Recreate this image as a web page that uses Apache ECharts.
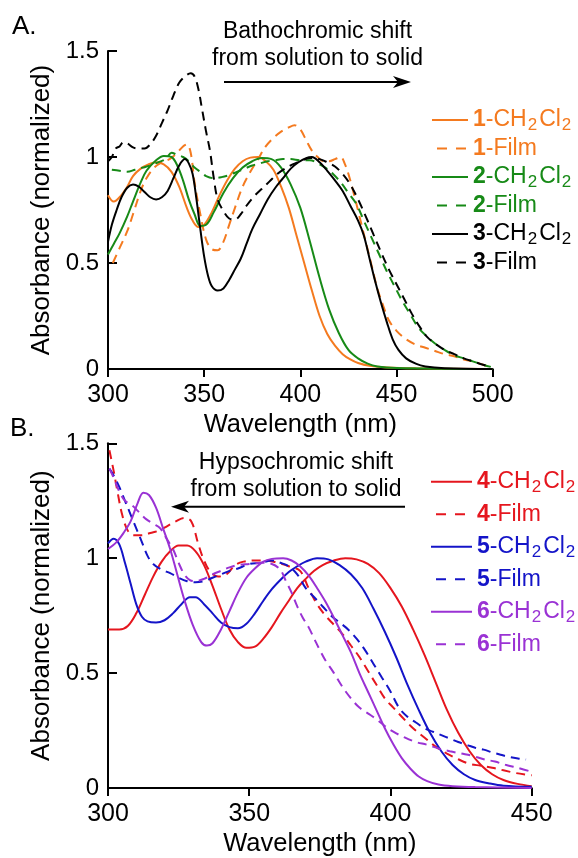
<!DOCTYPE html>
<html><head><meta charset="utf-8">
<script src="https://cdn.jsdelivr.net/npm/echarts@6/dist/echarts.min.js"></script>
<style>html,body{margin:0;padding:0;background:#fff}#c{width:578px;height:858px}</style>
</head><body><div id="c"></div>
<script>
// ---------- Panel A data (wavelength nm, normalized absorbance) ----------
const a1Sol = [[300,0.82],[303,0.79],[306,0.81],[310,0.86],[313,0.91],[317,0.945],[321,0.965],[325,0.975],[329,0.965],[333,0.93],[337,0.86],[341,0.76],[344,0.70],[347,0.67],[350,0.68],[354,0.74],[358,0.82],[362,0.89],[366,0.945],[370,0.98],[374,0.997],[378,1.0],[382,0.98],[386,0.94],[390,0.86],[394,0.76],[398,0.63],[402,0.50],[406,0.37],[410,0.25],[414,0.165],[418,0.11],[422,0.07],[426,0.045],[430,0.028],[436,0.015],[445,0.007],[460,0.003],[500,0]];
const a1Film = [[302.5,0.5],[306,0.57],[310,0.65],[313,0.73],[317,0.84],[320,0.9],[324,0.95],[328,0.975],[332,0.99],[336,1.02],[339,1.05],[341,1.06],[343,1.02],[345,0.88],[348,0.73],[351,0.61],[354,0.565],[357,0.56],[360,0.6],[363,0.68],[366,0.76],[370,0.86],[374,0.93],[378,0.99],[382,1.05],[386,1.09],[390,1.12],[394,1.14],[397,1.15],[400,1.13],[403,1.08],[406,1.03],[409,1.0],[412,0.98],[415,0.98],[418,0.99],[421,1.0],[423,0.97],[425,0.92],[428,0.82],[431,0.71],[434,0.6],[437,0.49],[440,0.38],[443,0.3],[446,0.23],[450,0.18],[455,0.14],[460,0.115],[465,0.1],[470,0.085],[475,0.07],[480,0.06],[485,0.045],[490,0.035],[495,0.02],[499,0.01]];
const a2Sol = [[300,0.54],[303,0.59],[306,0.64],[310,0.72],[313,0.79],[317,0.88],[320,0.935],[325,0.985],[329,1.005],[333,1.0],[336,0.96],[339,0.89],[342,0.8],[345,0.73],[348,0.675],[351,0.68],[355,0.74],[360,0.83],[365,0.9],[370,0.95],[375,0.98],[380,0.995],[385,0.99],[390,0.95],[395,0.87],[400,0.76],[405,0.6],[410,0.43],[415,0.28],[420,0.17],[425,0.09],[430,0.05],[435,0.025],[440,0.012],[450,0.005],[500,0]];
const a2Film = [[302,0.94],[306,0.935],[310,0.93],[314,0.94],[318,0.95],[322,0.96],[326,0.975],[330,0.99],[333,1.02],[336,1.01],[339,1.0],[342,0.98],[345,0.95],[348,0.93],[351,0.91],[355,0.9],[359,0.905],[363,0.915],[367,0.93],[371,0.945],[375,0.96],[379,0.97],[383,0.98],[387,0.985],[391,0.99],[395,0.99],[400,0.985],[405,0.985],[409,0.97],[413,0.95],[417,0.92],[421,0.88],[425,0.83],[429,0.78],[433,0.7],[437,0.62],[441,0.54],[445,0.46],[449,0.39],[453,0.32],[457,0.26],[461,0.2],[465,0.16],[470,0.12],[475,0.09],[480,0.065],[485,0.05],[490,0.035],[495,0.02],[499,0.01]];
const a3Sol = [[300,0.6],[302,0.68],[304.5,0.75],[307,0.81],[310,0.855],[313,0.87],[316,0.86],[319,0.835],[322,0.81],[325,0.8],[328,0.81],[331,0.84],[334,0.9],[337,0.96],[340,0.99],[342,0.97],[344,0.92],[346,0.8],[348,0.66],[350,0.53],[352,0.44],[354,0.39],[357,0.37],[360,0.38],[363,0.42],[366,0.47],[369,0.52],[372,0.59],[375,0.66],[379,0.73],[383,0.8],[387,0.855],[391,0.9],[395,0.945],[399,0.975],[403,0.995],[406,1.0],[410,0.975],[414,0.935],[418,0.89],[422,0.84],[426,0.77],[430,0.7],[433,0.63],[436,0.52],[439,0.41],[442,0.31],[445,0.22],[448,0.14],[451,0.09],[455,0.05],[460,0.025],[465,0.012],[475,0.004],[500,0]];
const a3Film = [[300,0.98],[302,1.0],[304,1.04],[306,1.05],[308,1.07],[310,1.065],[313,1.045],[316,1.04],[319,1.04],[322,1.06],[325,1.1],[328,1.16],[331,1.22],[334,1.29],[337,1.35],[340,1.38],[343,1.395],[345,1.38],[347,1.32],[349,1.22],[351,1.12],[353,1.03],[355,0.9],[357,0.8],[360,0.745],[363,0.71],[366,0.705],[369,0.73],[372,0.77],[376,0.815],[380,0.85],[384,0.885],[388,0.92],[392,0.945],[396,0.965],[400,0.98],[405,0.995],[410,0.99],[414,0.975],[418,0.955],[422,0.92],[426,0.87],[430,0.8],[434,0.72],[438,0.635],[442,0.55],[446,0.47],[450,0.4],[454,0.33],[458,0.26],[462,0.2],[466,0.15],[470,0.12],[475,0.09],[480,0.07],[485,0.05],[490,0.035],[495,0.02],[499,0.01]];

// ---------- Panel B data ----------
const b4Sol = [[300,0.69],[304,0.69],[307,0.705],[310,0.76],[313,0.84],[316,0.92],[319,0.985],[322,1.03],[325,1.055],[328,1.055],[331,1.03],[334,0.97],[337,0.88],[340,0.78],[343,0.69],[346,0.635],[349,0.61],[352,0.615],[355,0.65],[358,0.7],[361,0.76],[364,0.815],[367,0.87],[370,0.91],[373,0.945],[376,0.97],[380,0.99],[384,1.0],[388,0.995],[392,0.975],[396,0.935],[400,0.87],[404,0.79],[408,0.69],[412,0.58],[416,0.46],[420,0.34],[424,0.24],[428,0.16],[432,0.1],[436,0.06],[440,0.035],[445,0.018],[450,0.008]];
const b4Film = [[300.5,1.47],[302,1.38],[303.5,1.28],[305,1.19],[307,1.12],[309,1.1],[312,1.1],[315,1.11],[318,1.12],[321,1.14],[324,1.16],[327,1.175],[329.5,1.16],[332,1.06],[334,0.99],[336,0.945],[339,0.92],[342,0.93],[345,0.97],[348,0.985],[352,0.99],[356,0.99],[360,0.98],[364,0.965],[368,0.945],[371,0.87],[374,0.8],[377,0.75],[380,0.71],[383,0.67],[386,0.62],[389,0.57],[392,0.51],[395,0.45],[398,0.39],[401,0.35],[404,0.31],[408,0.26],[412,0.22],[416,0.18],[420,0.15],[424,0.125],[428,0.105],[432,0.097],[436,0.088],[440,0.077],[444,0.066],[448,0.058],[450,0.055]];
const b5Sol = [[300,1.065],[302,1.085],[304,1.06],[306,0.98],[308,0.89],[310,0.8],[312,0.745],[314,0.725],[317,0.72],[320,0.73],[323,0.76],[326,0.8],[329,0.83],[331,0.83],[334,0.8],[337,0.76],[340,0.72],[343,0.7],[346,0.695],[349,0.715],[352,0.76],[355,0.815],[358,0.865],[361,0.905],[364,0.94],[367,0.965],[370,0.985],[374,1.0],[378,0.995],[382,0.97],[386,0.93],[390,0.87],[394,0.78],[398,0.68],[402,0.57],[406,0.45],[410,0.34],[414,0.24],[418,0.16],[422,0.1],[426,0.06],[430,0.035],[435,0.02],[440,0.01],[450,0.005]];
const b5Film = [[300.5,1.39],[302,1.36],[304,1.31],[306,1.25],[308,1.19],[310,1.13],[312,1.07],[314,1.01],[316,0.975],[319,0.95],[322,0.935],[325,0.915],[328,0.9],[331,0.895],[334,0.9],[337,0.915],[340,0.93],[343,0.945],[346,0.955],[350,0.975],[354,0.98],[358,0.99],[361,0.98],[364,0.965],[367,0.93],[370,0.87],[373,0.83],[376,0.79],[379,0.75],[382,0.72],[385,0.69],[388,0.65],[391,0.6],[394,0.54],[397,0.48],[400,0.42],[403,0.35],[406,0.31],[409,0.285],[412,0.26],[415,0.245],[418,0.23],[421,0.215],[424,0.2],[427,0.188],[430,0.175],[433,0.167],[436,0.155],[439,0.145],[442,0.135],[446,0.127],[448,0.124]];
const b6Sol = [[300,1.04],[303,1.07],[305.5,1.11],[308,1.16],[310.5,1.24],[312.5,1.285],[314.5,1.275],[317,1.22],[319.5,1.13],[322,1.04],[324.5,0.93],[327,0.82],[330,0.71],[333,0.635],[335,0.62],[337,0.63],[340,0.69],[343,0.77],[346,0.85],[349,0.915],[352,0.955],[355,0.985],[358,0.997],[362,1.0],[365,0.99],[368,0.965],[371,0.925],[374,0.87],[377,0.81],[380,0.74],[383,0.665],[386,0.59],[389,0.5],[392,0.42],[395,0.34],[398,0.26],[401,0.19],[404,0.13],[407,0.085],[410,0.05],[413,0.03],[417,0.015],[422,0.008],[430,0.004],[450,0]];
const b6Film = [[300.5,1.39],[302,1.35],[304,1.29],[306,1.25],[308.5,1.23],[311,1.2],[313.5,1.17],[316,1.15],[318.5,1.13],[321,1.08],[323,1.04],[325,0.98],[327,0.93],[329,0.905],[331,0.9],[334,0.91],[337,0.93],[340,0.945],[343,0.96],[346,0.97],[350,0.975],[354,0.98],[358,0.975],[361,0.95],[363,0.9],[365,0.85],[367,0.79],[369,0.74],[371,0.7],[373,0.65],[375,0.6],[377,0.555],[380,0.5],[383,0.44],[386,0.39],[389,0.35],[392,0.325],[395,0.3],[398,0.27],[401,0.245],[405,0.22],[409,0.2],[413,0.188],[417,0.172],[421,0.16],[425,0.15],[429,0.14],[433,0.125],[437,0.115],[441,0.1],[445,0.088],[449,0.074]];

const namesA = ['1-CH2Cl2','1-Film','2-CH2Cl2','2-Film','3-CH2Cl2','3-Film'];
const namesB = ['4-CH2Cl2','4-Film','5-CH2Cl2','5-Film','6-CH2Cl2','6-Film'];
const colorsA = ['#F47A1F','#F47A1F','#178A17','#178A17','#000000','#000000'];
const colorsB = ['#E5161E','#E5161E','#1414C8','#1414C8','#9A32D4','#9A32D4'];
const dataA = [a1Sol,a1Film,a2Sol,a2Film,a3Sol,a3Film];
const dataB = [b4Sol,b4Film,b5Sol,b5Film,b6Sol,b6Film];
const xTicksA = {min:300,max:500,interval:50};
const xTicksB = {min:300,max:450,interval:50};
const yTicks = {min:0,max:1.5,interval:0.5};

const FF = '"Liberation Sans", Arial, sans-serif';
const DASH = [9,6];

function legendLabel(n){
  const p = n.split('-');
  const rest = p[1] === 'CH2Cl2' ? '{t|-CH}{s|2}{t|Cl}{s|2}' : '{t|-' + p[1] + '}';
  return '{b|' + p[0] + '}' + rest;
}
const rich = {
  b:{fontWeight:'bold',fontSize:23,lineHeight:28,fontFamily:FF},
  t:{fontSize:23,lineHeight:28,fontFamily:FF},
  s:{fontSize:17,lineHeight:8,verticalAlign:'bottom',fontFamily:FF,padding:[0,2,0,1]}
};

function mkX(idx, t){
  return {gridIndex:idx,type:'value',min:t.min,max:t.max,interval:t.interval,
    axisLine:{show:true,lineStyle:{color:'#000',width:2}},
    axisTick:{show:true,inside:false,length:8,lineStyle:{color:'#000',width:2}},
    axisLabel:{color:'#000',fontSize:25,fontFamily:FF,margin:14},
    splitLine:{show:false},
    name:'Wavelength (nm)',nameLocation:'middle',nameGap:43,
    nameTextStyle:{color:'#000',fontSize:25.5,fontFamily:FF}};
}
function mkY(idx){
  return {gridIndex:idx,type:'value',min:yTicks.min,max:yTicks.max,interval:yTicks.interval,
    axisLine:{show:true,lineStyle:{color:'#000',width:2}},
    axisTick:{show:true,inside:true,length:9,lineStyle:{color:'#000',width:2}},
    axisLabel:{color:'#000',fontSize:24,fontFamily:FF,margin:9,padding:[0,0,6,0]},
    splitLine:{show:false},
    name:'Absorbance (normalized)',nameLocation:'middle',nameGap:52,
    nameTextStyle:{color:'#000',fontSize:26,fontFamily:FF}};
}
function mkSeries(names, colors, datas, idx){
  return names.map((n,i)=>({
    name:n,type:'line',xAxisIndex:idx,yAxisIndex:idx,data:datas[i],
    symbol:'none',showSymbol:false,smooth:0.35,silent:true,animation:false,
    lineStyle:{color:colors[i],width:2,type:n.indexOf('Film')>=0?DASH:'solid'},
    itemStyle:{color:colors[i]}
  }));
}
function mkLegend(names, colors, left, top, gap, w){
  return {left:left,top:top,orient:'vertical',padding:0,itemGap:gap,itemWidth:w,itemHeight:14,
    selectedMode:false,
    itemStyle:{color:'rgba(0,0,0,0)',borderColor:'rgba(0,0,0,0)',borderWidth:0,opacity:0},
    data:names.map((n,i)=>({name:n,textStyle:{color:colors[i]},
      lineStyle:{color:colors[i],width:2,type:n.indexOf('Film')>=0?[10,9]:'solid',dashOffset:n.indexOf('Film')>=0?14:0}})),
    formatter:legendLabel,
    textStyle:{fontSize:23,fontFamily:FF,lineHeight:28,rich:rich}};
}

const chart = echarts.init(document.getElementById('c'),null,{renderer:'canvas'});
chart.setOption({
  animation:false,
  backgroundColor:'#fff',
  grid:[{left:108,top:51,width:384.7,height:318},{left:108,top:443.3,width:423.7,height:350.7}],
  xAxis:[mkX(0,xTicksA),mkX(1,xTicksB)],
  yAxis:[mkY(0),mkY(1)],
  legend:[mkLegend(namesA,colorsA,431,106,0.5,36),mkLegend(namesB,colorsB,430,467.7,4.5,41)],
  series:[...mkSeries(namesA,colorsA,dataA,0),...mkSeries(namesB,colorsB,dataB,1)],
  graphic:[
    {type:'text',x:12,y:26.4,style:{text:'A.',fontSize:26,fontFamily:FF,fill:'#000',verticalAlign:'middle'}},
    {type:'text',x:10,y:428.4,style:{text:'B.',fontSize:26,fontFamily:FF,fill:'#000',verticalAlign:'middle'}},
    {type:'text',x:317.5,y:18,style:{text:'Bathochromic shift\nfrom solution to solid',fontSize:23,fontFamily:FF,fill:'#000',align:'center',verticalAlign:'top',lineHeight:27}},
    {type:'line',shape:{x1:224,y1:82,x2:402,y2:82},style:{stroke:'#000',lineWidth:2}},
    {type:'polygon',shape:{points:[[411,82],[393,76],[398,82],[393,88]]},style:{fill:'#000'}},
    {type:'text',x:296,y:449,style:{text:'Hypsochromic shift\nfrom solution to solid',fontSize:23,fontFamily:FF,fill:'#000',align:'center',verticalAlign:'top',lineHeight:27}},
    {type:'line',shape:{x1:180,y1:506.7,x2:405,y2:506.7},style:{stroke:'#000',lineWidth:2}},
    {type:'polygon',shape:{points:[[171,506.7],[189,500.7],[184,506.7],[189,512.7]]},style:{fill:'#000'}}
  ]
});
</script></body></html>
